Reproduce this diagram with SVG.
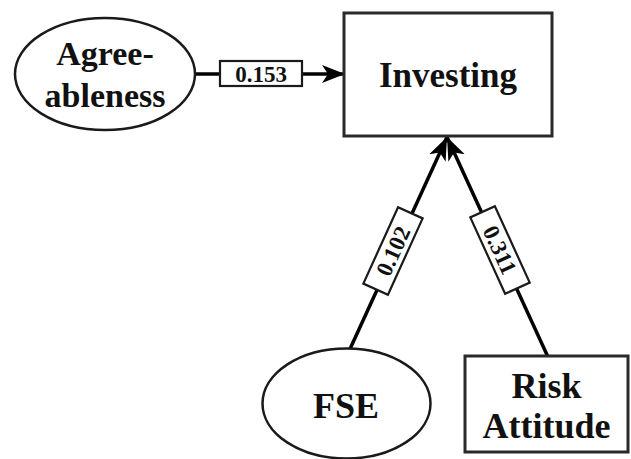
<svg xmlns="http://www.w3.org/2000/svg" width="631" height="459" viewBox="0 0 631 459">
  <style>
    .shape { fill: #ffffff; stroke: #1a1a1a; stroke-width: 2.5; }
    .box { fill: #ffffff; stroke: #2a2a2a; stroke-width: 3; }
    .edge { fill: none; stroke: #000000; stroke-width: 3.5; }
    .tag { fill: #ffffff; stroke: #1a1a1a; stroke-width: 2.2; }
    .lbl { font-family: "Liberation Serif", "Times New Roman", serif; font-weight: bold; fill: #111111; text-anchor: middle; }
    .num { font-family: "Liberation Serif", "Times New Roman", serif; font-weight: bold; fill: #111111; text-anchor: middle; font-size: 23px; }
  </style>
  <defs>
    <marker id="arrow" markerUnits="userSpaceOnUse" markerWidth="24" markerHeight="20" refX="23" refY="10" orient="auto">
      <path d="M0,1 L23,10 L0,19 L6,10 z" fill="#000000"/>
    </marker>
  </defs>

  <rect width="631" height="459" fill="#ffffff"/>

  <!-- connectors with their coefficient tags -->
  <g id="connectors">
    <line class="edge" x1="195" y1="74" x2="345" y2="74" marker-end="url(#arrow)"/>
    <line class="edge" x1="350" y1="349" x2="447" y2="137" marker-end="url(#arrow)"/>
    <line class="edge" x1="548" y1="357" x2="447" y2="137" marker-end="url(#arrow)"/>

    <g id="tag-agree">
      <rect class="tag" x="220" y="61" width="82" height="25"/>
      <text class="num" x="261" y="81.5">0.153</text>
    </g>
    <g id="tag-fse" transform="translate(393,251) rotate(-65.6)">
      <rect class="tag" x="-42" y="-13.5" width="84" height="27"/>
      <text class="num" x="0" y="8">0.102</text>
    </g>
    <g id="tag-risk" transform="translate(500,250) rotate(65.5)">
      <rect class="tag" x="-42" y="-13.5" width="84" height="27"/>
      <text class="num" x="0" y="8">0.311</text>
    </g>
  </g>

  <g id="agreeableness">
    <ellipse class="shape" cx="105" cy="74" rx="90" ry="56"/>
    <text class="lbl" font-size="34" x="105" y="65">Agree-</text>
    <text class="lbl" font-size="34" x="105" y="107">ableness</text>
  </g>

  <g id="investing">
    <rect class="box" x="344" y="13" width="208" height="123"/>
    <text class="lbl" font-size="35" x="448" y="87">Investing</text>
  </g>

  <g id="fse">
    <ellipse class="shape" cx="346.5" cy="403.5" rx="84" ry="55"/>
    <text class="lbl" font-size="36" x="346" y="418">FSE</text>
  </g>

  <g id="risk-attitude">
    <rect class="box" x="465" y="356" width="163" height="96"/>
    <text class="lbl" font-size="36" x="546.5" y="398">Risk</text>
    <text class="lbl" font-size="36" x="546.5" y="438">Attitude</text>
  </g>
</svg>
